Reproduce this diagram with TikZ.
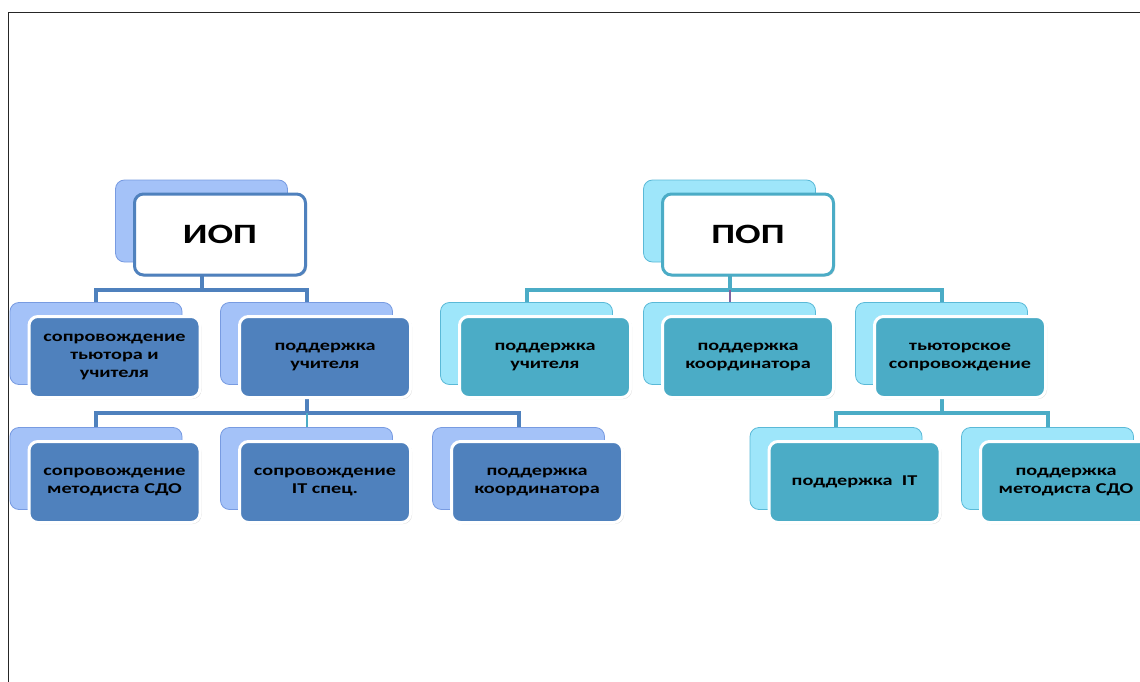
\documentclass[tikz,border=0pt]{standalone}
\usepackage{fontspec}
\newfontfamily\boxfont{Carlito}[FakeStretch=1.35]
\usetikzlibrary{shadows,backgrounds}

\definecolor{iopdark}{RGB}{79,129,189}
\definecolor{ioplight}{RGB}{164,194,248}
\definecolor{iopedge}{RGB}{120,155,225}
\definecolor{popdark}{RGB}{75,172,198}
\definecolor{poplight}{RGB}{158,230,250}
\definecolor{popedge}{RGB}{90,185,215}
\definecolor{midpurple}{RGB}{128,100,162}

\tikzset{
  backbox/.style={rounded corners=9pt, minimum width=172pt, minimum height=82pt, line width=0.8pt},
  frontbox/.style={rounded corners=9pt, minimum width=171pt, minimum height=81pt, line width=3pt,
    align=center, font=\boxfont\bfseries\fontsize{15}{18}\selectfont,
    drop shadow={shadow xshift=1.5pt, shadow yshift=-1.5pt, opacity=0.25}},
  iopback/.style={backbox, fill=ioplight, draw=iopedge},
  popback/.style={backbox, fill=poplight, draw=popedge},
  iopbox/.style={frontbox, fill=iopdark, draw=white},
  popbox/.style={frontbox, fill=popdark, draw=white},
  headbox/.style={frontbox, fill=white, font=\boxfont\bfseries\fontsize{28}{32}\selectfont},
  iopline/.style={draw=iopdark, line width=4pt},
  popline/.style={draw=popdark, line width=4pt},
  thinline/.style={line width=2pt},
}

\begin{document}
\begin{tikzpicture}[x=1pt,y=-1pt]
\useasboundingbox (0,0) rectangle (1140,682);

% frame
\draw[line width=1.5pt, black!85] (8.5,682) -- (8.5,12.5) -- (1140,12.5);

% back boxes
\node[iopback] (iop-b) at (201.5,221) {};
\node[iopback] (tut1-b) at (96,343.5) {};
\node[iopback] (uch1-b) at (306.5,343.5) {};
\node[iopback] (met1-b) at (96,468.5) {};
\node[iopback] (it1-b) at (306.5,468.5) {};
\node[iopback] (kor1-b) at (518.5,468.5) {};

\node[popback] (pop-b) at (729.5,221) {};
\node[popback] (uch2-b) at (526.5,343.5) {};
\node[popback] (kor2-b) at (729.5,343.5) {};
\node[popback] (tut2-b) at (941.5,343.5) {};
\node[popback] (it2-b) at (836,468.5) {};
\node[popback] (met2-b) at (1047.5,468.5) {};

% junctions
\coordinate (iop-j) at (201.5,290);
\coordinate (uch-j) at (306.5,413);
\coordinate (pop-j) at (729.5,290);
\coordinate (tut-j) at (941.5,413);

% connectors, behind the boxes
\begin{scope}[on background layer]
\path[iopline] (iop-b.south) -- (iop-j) -| (tut1-b.north);
\path[iopline] (iop-j) -| (uch1-b.north);
\path[iopline] (uch1-b.south) -- (uch-j) -| (met1-b.north);
\path[iopline] (uch-j) -| (kor1-b.north);
\draw[thinline, popdark] (uch-j) -- (it1-b.north);

\path[popline] (pop-b.south) -- (pop-j) -| (uch2-b.north);
\path[popline] (pop-j) -| (tut2-b.north);
\draw[thinline, midpurple] (pop-j) -- (kor2-b.north);
\path[popline] (tut2-b.south) -- (tut-j) -| (it2-b.north);
\path[popline] (tut-j) -| (met2-b.north);
\end{scope}

% front boxes, left tree
\node[headbox, draw=iopdark] (iop) at ([shift={(18.5,13.5)}]iop-b) {ИОП};
\node[iopbox] (tut1) at ([shift={(18.5,13.5)}]tut1-b) {сопровождение\\тьютора и\\учителя};
\node[iopbox] (uch1) at ([shift={(18.5,13.5)}]uch1-b) {поддержка\\учителя};
\node[iopbox] (met1) at ([shift={(18.5,13.5)}]met1-b) {сопровождение\\методиста СДО};
\node[iopbox] (it1) at ([shift={(18.5,13.5)}]it1-b) {сопровождение\\IT спец.};
\node[iopbox] (kor1) at ([shift={(18.5,13.5)}]kor1-b) {поддержка\\координатора};

% front boxes, right tree
\node[headbox, draw=popdark] (pop) at ([shift={(18.5,13.5)}]pop-b) {ПОП};
\node[popbox] (uch2) at ([shift={(18.5,13.5)}]uch2-b) {поддержка\\учителя};
\node[popbox] (kor2) at ([shift={(18.5,13.5)}]kor2-b) {поддержка\\координатора};
\node[popbox] (tut2) at ([shift={(18.5,13.5)}]tut2-b) {тьюторское\\сопровождение};
\node[popbox] (it2) at ([shift={(18.5,13.5)}]it2-b) {поддержка~\ IT};
\node[popbox] (met2) at ([shift={(18.5,13.5)}]met2-b) {поддержка\\методиста СДО};

\end{tikzpicture}
\end{document}
